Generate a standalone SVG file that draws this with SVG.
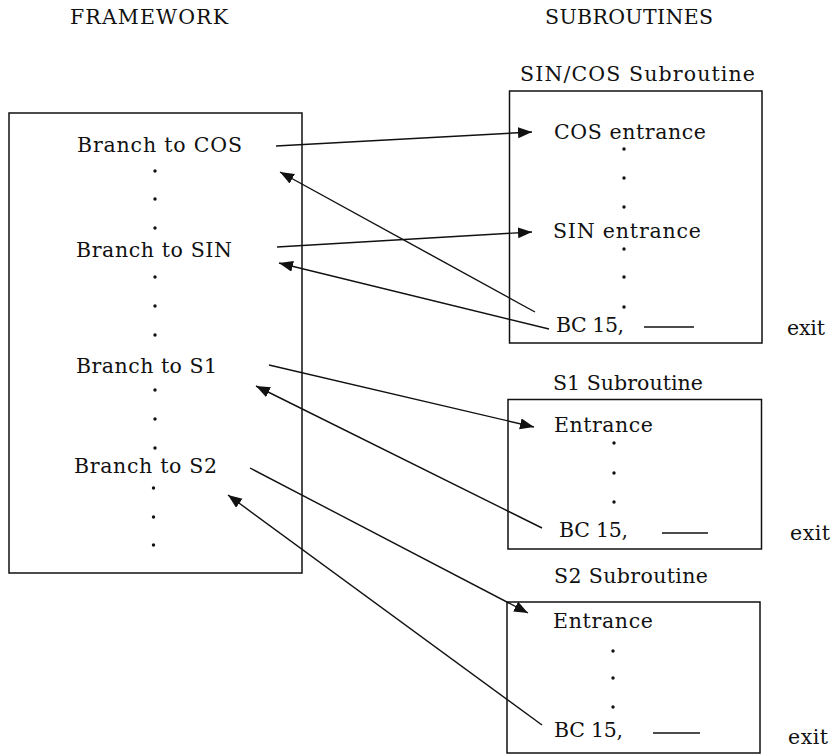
<svg xmlns="http://www.w3.org/2000/svg" width="835" height="755" viewBox="0 0 835 755">
  <style>
    .t { font-family: "DejaVu Serif", "Liberation Serif", serif; font-size: 20.5px; fill: #111; }
    .box { fill: none; stroke: #111; stroke-width: 1.5; }
    .link { fill: none; stroke: #111; stroke-width: 1.4; marker-end: url(#arrow); }
    .dash { stroke: #111; stroke-width: 1.5; }
    .dot { fill: #111; }
  </style>
  <defs>
    <marker id="arrow" markerUnits="userSpaceOnUse" markerWidth="15" markerHeight="12" refX="14" refY="5.5" orient="auto">
      <path d="M0,0 L14,5.5 L0,11 z" fill="#111"/>
    </marker>
  </defs>
  <rect width="835" height="755" fill="#fff"/>

  <!-- column headings -->
  <text class="t" x="70" y="24" textLength="158" lengthAdjust="spacing">FRAMEWORK</text>
  <text class="t" x="545" y="24" textLength="168" lengthAdjust="spacing">SUBROUTINES</text>

  <!-- main program -->
  <g id="framework">
    <rect class="box" x="9" y="113" width="293" height="460"/>
    <text class="t" x="77" y="152" textLength="165" lengthAdjust="spacing">Branch to COS</text>
    <circle class="dot" cx="155" cy="171" r="1.7"/>
    <circle class="dot" cx="155" cy="199" r="1.7"/>
    <circle class="dot" cx="155" cy="228" r="1.7"/>
    <text class="t" x="76" y="257" textLength="156" lengthAdjust="spacing">Branch to SIN</text>
    <circle class="dot" cx="155" cy="277" r="1.7"/>
    <circle class="dot" cx="155" cy="306" r="1.7"/>
    <circle class="dot" cx="155" cy="335" r="1.7"/>
    <text class="t" x="76" y="373" textLength="141" lengthAdjust="spacing">Branch to S1</text>
    <circle class="dot" cx="155" cy="390" r="1.7"/>
    <circle class="dot" cx="155" cy="419" r="1.7"/>
    <circle class="dot" cx="155" cy="448" r="1.7"/>
    <text class="t" x="74" y="473" textLength="143" lengthAdjust="spacing">Branch to S2</text>
    <circle class="dot" cx="153.5" cy="488" r="1.7"/>
    <circle class="dot" cx="153.5" cy="517" r="1.7"/>
    <circle class="dot" cx="153.5" cy="545" r="1.7"/>
  </g>

  <!-- SIN/COS subroutine -->
  <g id="sincos">
    <text class="t" x="520" y="81" textLength="235" lengthAdjust="spacing">SIN/COS  Subroutine</text>
    <rect class="box" x="509.5" y="91" width="252.5" height="252"/>
    <text class="t" x="554" y="139" textLength="152" lengthAdjust="spacing">COS entrance</text>
    <circle class="dot" cx="624" cy="149" r="1.7"/>
    <circle class="dot" cx="624" cy="178" r="1.7"/>
    <circle class="dot" cx="624" cy="207" r="1.7"/>
    <text class="t" x="553" y="238" textLength="148" lengthAdjust="spacing">SIN entrance</text>
    <circle class="dot" cx="624" cy="249" r="1.7"/>
    <circle class="dot" cx="624" cy="277" r="1.7"/>
    <circle class="dot" cx="624" cy="307" r="1.7"/>
    <text class="t" x="556" y="332" textLength="68" lengthAdjust="spacing">BC 15,</text>
    <line class="dash" x1="644" y1="327" x2="694" y2="327"/>
    <text class="t" x="787" y="335" textLength="38" lengthAdjust="spacing">exit</text>
  </g>

  <!-- S1 subroutine -->
  <g id="s1">
    <text class="t" x="553" y="390" textLength="150" lengthAdjust="spacing">S1 Subroutine</text>
    <rect class="box" x="508" y="399.5" width="253.5" height="149.5"/>
    <text class="t" x="554" y="432" textLength="99" lengthAdjust="spacing">Entrance</text>
    <circle class="dot" cx="614" cy="443" r="1.7"/>
    <circle class="dot" cx="614" cy="473" r="1.7"/>
    <circle class="dot" cx="614" cy="502" r="1.7"/>
    <text class="t" x="559" y="537" textLength="69" lengthAdjust="spacing">BC 15,</text>
    <line class="dash" x1="662" y1="533" x2="708" y2="533"/>
    <text class="t" x="790" y="540" textLength="40" lengthAdjust="spacing">exit</text>
  </g>

  <!-- S2 subroutine -->
  <g id="s2">
    <text class="t" x="554" y="583" textLength="154" lengthAdjust="spacing">S2 Subroutine</text>
    <rect class="box" x="507" y="602" width="253" height="151"/>
    <text class="t" x="553" y="628" textLength="100" lengthAdjust="spacing">Entrance</text>
    <circle class="dot" cx="613" cy="651" r="1.7"/>
    <circle class="dot" cx="613" cy="678" r="1.7"/>
    <circle class="dot" cx="613" cy="707" r="1.7"/>
    <text class="t" x="554" y="737" textLength="69" lengthAdjust="spacing">BC 15,</text>
    <line class="dash" x1="653" y1="733" x2="700" y2="733"/>
    <text class="t" x="788" y="744" textLength="40" lengthAdjust="spacing">exit</text>
  </g>

  <!-- calls and returns -->
  <g id="connectors">
    <line class="link" x1="276" y1="146" x2="532" y2="132"/>
    <line class="link" x1="277" y1="247" x2="532" y2="232"/>
    <line class="link" x1="535" y1="312" x2="280" y2="172"/>
    <line class="link" x1="549" y1="329" x2="279" y2="263"/>
    <line class="link" x1="269" y1="365" x2="534" y2="427"/>
    <line class="link" x1="542" y1="528" x2="256" y2="386"/>
    <line class="link" x1="250" y1="468" x2="528" y2="613"/>
    <line class="link" x1="542" y1="725" x2="228" y2="495"/>
  </g>
</svg>
